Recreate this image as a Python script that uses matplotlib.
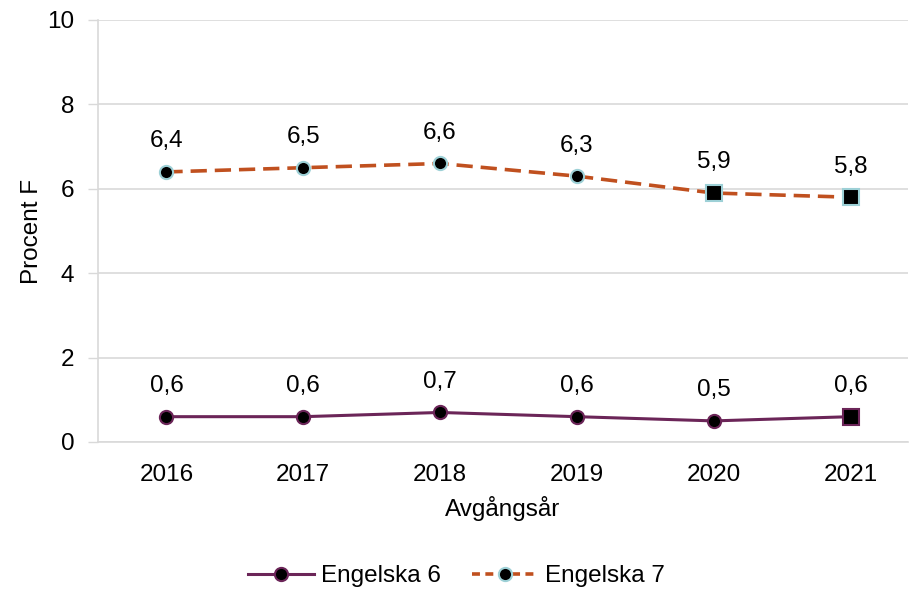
import matplotlib.pyplot as plt

plt.rcParams['font.family'] = ['Liberation Sans', 'DejaVu Sans']

# data
years = ['2016', '2017', '2018', '2019', '2020', '2021']
engelska6 = [0.6, 0.6, 0.7, 0.6, 0.5, 0.6]
engelska7 = [6.4, 6.5, 6.6, 6.3, 5.9, 5.8]
labels6 = ['0,6', '0,6', '0,7', '0,6', '0,5', '0,6']
labels7 = ['6,4', '6,5', '6,6', '6,3', '5,9', '5,8']

purple = '#6B2558'
orange = '#C0501F'
lightblue = '#9DD0D6'
fs = 17.5

fig = plt.figure(figsize=(9.13, 5.89), dpi=100)
ax = fig.add_axes([98 / 913, 1 - 442 / 589, 810 / 913, 422 / 589])

x = list(range(len(years)))

# Engelska 6
ax.plot(x, engelska6, color=purple, lw=2.2, zorder=3)
ax.plot(x[:-1], engelska6[:-1], ls='none', marker='o', ms=9.5, mfc='black',
        mec=purple, mew=1.5, zorder=4)
ax.plot(x[-1:], engelska6[-1:], ls='none', marker='s', ms=12, mfc='black',
        mec=purple, mew=1.5, zorder=4)

# Engelska 7
ax.plot(x, engelska7, color=orange, lw=2.6, ls=(0, (4.5, 2.2)), zorder=3)
ax.plot(x[:-2], engelska7[:-2], ls='none', marker='o', ms=9.5, mfc='black',
        mec=lightblue, mew=1.5, zorder=4)
ax.plot(x[-2:], engelska7[-2:], ls='none', marker='s', ms=12, mfc='black',
        mec=lightblue, mew=1.5, zorder=4)

for i in x:
    ax.annotate(labels6[i], (i, engelska6[i]), xytext=(0, 22), textcoords='offset points',
                ha='center', va='center', fontsize=fs)
    ax.annotate(labels7[i], (i, engelska7[i]), xytext=(0, 22), textcoords='offset points',
                ha='center', va='center', fontsize=fs)

# legend handles
h6, = ax.plot([], [], color=purple, lw=2.2, marker='o', ms=9.5, mfc='black', mec=purple, mew=1.5)
h7, = ax.plot([], [], color=orange, lw=2.6, ls=(0, (2.2, 1.5)), marker='o', ms=9.5,
              mfc='black', mec=lightblue, mew=1.5)
fig.legend([h6, h7], ['Engelska 6', 'Engelska 7'], loc='center', bbox_to_anchor=(0.5, 1 - 576 / 589),
           ncol=2, frameon=False, fontsize=fs, handlelength=2.7, columnspacing=1.3, handletextpad=0.3)

ax.set_xlim(-0.5, 5.42)
ax.set_ylim(0, 10)
ax.set_yticks([0, 2, 4, 6, 8, 10])
ax.set_xticks(x)
ax.set_xticklabels(years)
ax.tick_params(axis='both', labelsize=fs, colors='black')
ax.tick_params(axis='x', length=0, pad=16)
ax.tick_params(axis='y', length=7, width=1, color='#D9D9D9', pad=10)

ax.grid(axis='y', color='#D9D9D9', lw=1.2)
ax.set_axisbelow(True)
for s in ['top', 'right']:
    ax.spines[s].set_visible(False)
ax.spines['left'].set_color('#D9D9D9')
ax.spines['left'].set_linewidth(1.2)
ax.spines['bottom'].set_color('#D9D9D9')
ax.spines['bottom'].set_linewidth(1.2)

ax.set_xlabel('Avgångsår', fontsize=fs, labelpad=7)
ax.set_ylabel('Procent F', fontsize=fs, labelpad=3)

plt.savefig('out.png', dpi=100)
